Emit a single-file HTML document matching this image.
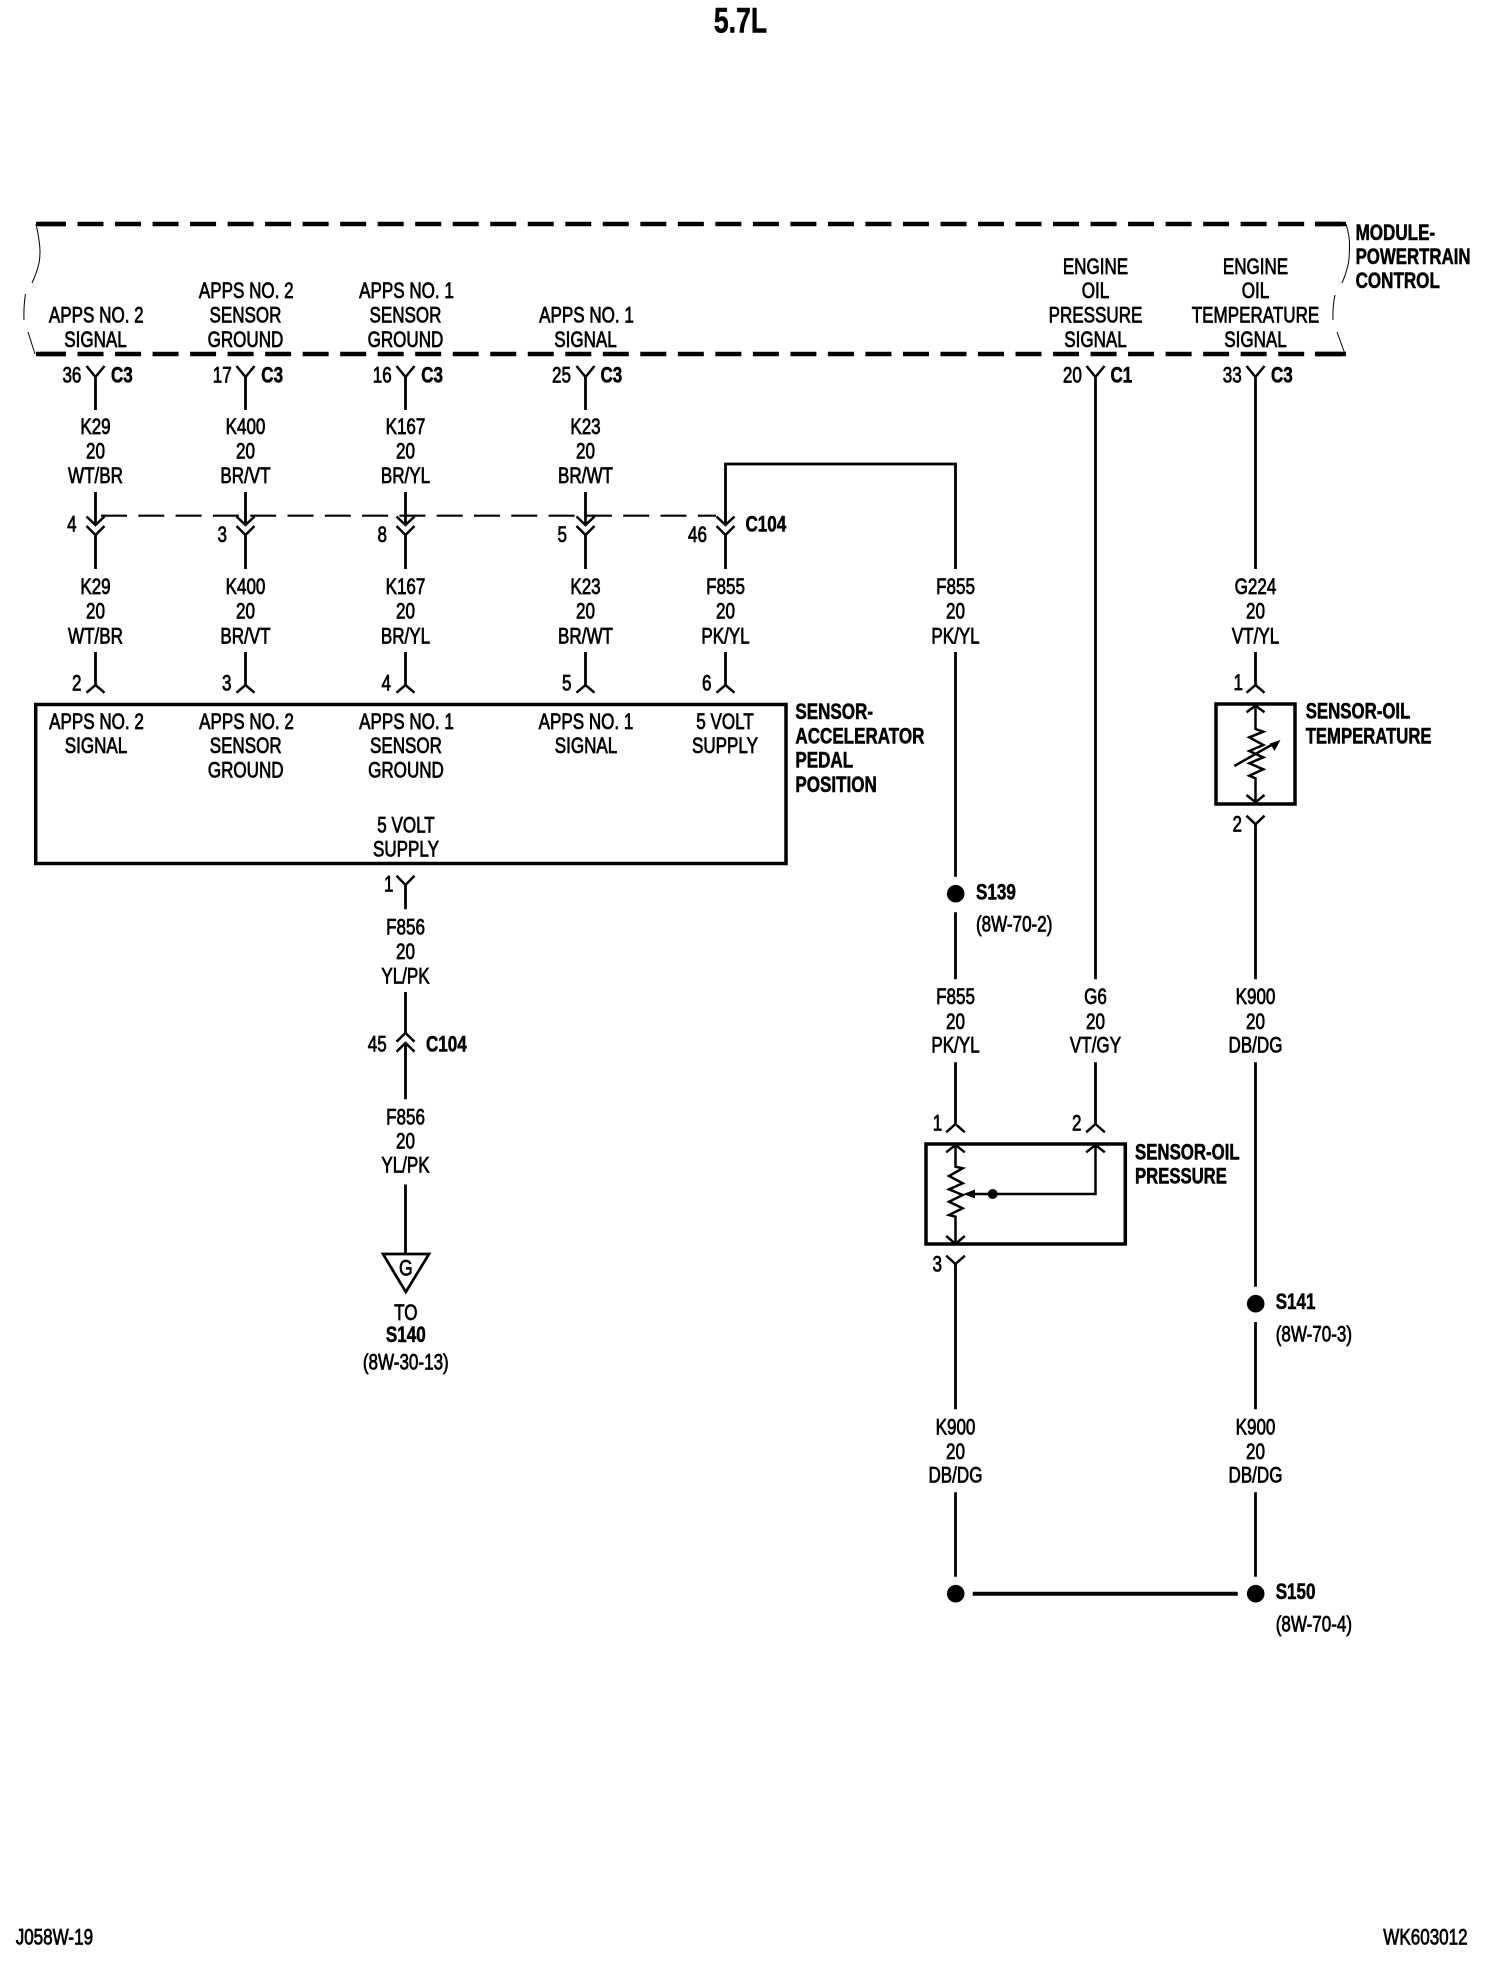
<!DOCTYPE html>
<html lang="en">
<head>
<meta charset="utf-8">
<title>5.7L wiring diagram</title>
<style>
html,body{margin:0;padding:0;background:#fff}
svg{display:block}
text{font-family:"Liberation Sans",Arial,sans-serif;font-size:22px;fill:#000;stroke:#000;stroke-width:.75px;transform-box:fill-box;transform:scaleX(.775)}
.m{text-anchor:middle;transform-origin:50% 0}
.s{text-anchor:start;transform-origin:0 0}
.e{text-anchor:end;transform-origin:100% 0}
.b{font-weight:bold;stroke-width:.55px}
.w{fill:none;stroke:#000;stroke-width:2.8;stroke-linejoin:miter}
.c{fill:none;stroke:#000;stroke-width:2.5;stroke-linejoin:miter}
.t{fill:none;stroke:#000;stroke-width:1}
</style>
</head>
<body>
<svg xmlns="http://www.w3.org/2000/svg" width="1504" height="1978" viewBox="0 0 1504 1978">
<rect width="1504" height="1978" fill="#fff"/>

<!-- Module boundary -->
<g fill="none" stroke="#000" stroke-width="4.400">
<path d="M40 224H1346" stroke-dasharray="26 11.52"/>
<path d="M40 354H1346" stroke-dasharray="26 11.52"/>
<path d="M36 224H66M1315 224H1346M36 354H66M1315 354H1346"/>
</g>
<path class="t" d="M36 224Q39.500 240 40 250Q40 258 39 263Q37 272 32 283M25.500 294Q23.500 306 24 320M28 332L35 354M1346 224Q1349.500 236 1349.500 243Q1349.500 256 1348.500 263Q1346 274 1342 283M1335 295Q1332.500 306 1333 320M1337 332L1345 354"/>

<!-- Wires -->
<path class="w" d="M95.500 377V410M245.500 377V410M405.500 377V410M585.500 377V410
M95.500 492V525M245.500 492V525M405.500 492V525M585.500 492V525
M95.500 535V569M245.500 535V569M405.500 535V569M585.500 535V569M725.500 535V569
M95.500 652V685M245.500 652V685M405.500 652V685M585.500 652V685M725.500 652V685
M725.500 525V464H955.500V569M955.500 652V876.700M955.500 912.300V979.300M955.500 1062.300V1124
M1095.500 377V979.300M1095.500 1062.300V1124
M1255.500 377V569M1255.500 652V685M1255.500 824V979.300M1255.500 1062.300V1286.700M1255.500 1322V1409.300M1255.500 1492.300V1576.700
M955.500 1264V1409.300M955.500 1492.300V1576.700
M405.500 885V909.300M405.500 992V1033M405.500 1043V1099.300M405.500 1184.500V1254"/>
<path d="M972.700 1593.700H1237.700" fill="none" stroke="#000" stroke-width="4"/>
<path d="M101 515.700H716" fill="none" stroke="#000" stroke-width="2.200" stroke-dasharray="26 11.300"/>

<!-- Connector symbols -->
<path class="c" d="M86.500 366L95.500 377L104.500 366M236.500 366L245.500 377L254.500 366M396.500 366L405.500 377L414.500 366M576.500 366L585.500 377L594.500 366M1086.500 366L1095.500 377L1104.500 366M1246.500 366L1255.500 377L1264.500 366
M86.500 516.500L95.500 525L104.500 516.500M236.500 516.500L245.500 525L254.500 516.500M396.500 516.500L405.500 525L414.500 516.500M576.500 516.500L585.500 525L594.500 516.500M716.500 516.500L725.500 525L734.500 516.500
M86.500 526L95.500 535L104.500 526M236.500 526L245.500 535L254.500 526M396.500 526L405.500 535L414.500 526M576.500 526L585.500 535L594.500 526M716.500 526L725.500 535L734.500 526
M86.500 692.700L95.500 685L104.500 692.700M236.500 692.700L245.500 685L254.500 692.700M396.500 692.700L405.500 685L414.500 692.700M576.500 692.700L585.500 685L594.500 692.700M716.500 692.700L725.500 685L734.500 692.700M1246.500 692.700L1255.500 685L1264.500 692.700
M396.500 875.700L405.500 885L414.500 875.700M396.500 1041.700L405.500 1033L414.500 1041.700M396.500 1051.700L405.500 1043L414.500 1051.700
M946.200 1132.300L955.500 1124L964.800 1132.300M1086.200 1132.300L1095.500 1124L1104.800 1132.300
M946.200 1152.300L955.500 1145L964.800 1152.300M1086.200 1152.300L1095.500 1145L1104.800 1152.300
M946.200 1236L955.500 1244L964.800 1236M946.200 1255.700L955.500 1264L964.800 1255.700
M1246.500 712.300L1255.500 705.700L1264.500 712.300M1246.500 795L1255.500 802.300L1264.500 795M1246.500 815.700L1255.500 824.300L1264.500 815.700"/>

<!-- Boxes -->
<g fill="none" stroke="#000" stroke-width="3.500">
<rect x="35.700" y="704.500" width="750.300" height="159"/>
<rect x="926" y="1144" width="199.300" height="100"/>
<rect x="1216" y="704" width="79" height="100"/>
</g>

<!-- Oil pressure sensor internals -->
<path class="c" d="M955.500 1145V1166.700L962.700 1168.300L949 1176L962.700 1183.300L949 1189.300L962.700 1195L949 1201.700L962.700 1208.300L949 1215L955.500 1216.700V1244M1095.500 1145V1194H975"/>
<polygon points="963.300,1194 975,1189.500 975,1198.500" fill="#000"/>
<circle cx="992.700" cy="1194" r="5" fill="#000"/>

<!-- Oil temperature sensor internals -->
<path class="c" d="M1255.500 705.700V729L1263.300 731.700L1249.300 737.300L1263.300 745L1249.300 751L1263.300 757.300L1249.300 763.300L1263.300 769.300L1249.300 775.700L1255.500 778.300V802.300M1234.300 766L1274 743.500"/>
<polygon points="1280.500,740 1270,743.500 1274.500,751" fill="#000"/>

<!-- Splices -->
<g fill="#000">
<circle cx="955.700" cy="893.700" r="8.800"/>
<circle cx="1255.700" cy="1303.700" r="8.800"/>
<circle cx="955.700" cy="1593.700" r="8.800"/>
<circle cx="1255.700" cy="1593.700" r="8.800"/>
</g>

<!-- Ground triangle -->
<polygon points="383,1254 429,1254 405.800,1292" fill="#fff" stroke="#000" stroke-width="2.700"/>
<text class="m" x="405.800" y="1275.500" style="transform:scaleX(.8)">G</text>

<!-- Title and footer -->
<text class="m b" x="740.500" y="32.300" style="font-size:35px;transform:scaleX(.76)">5.7L</text>
<text class="s" x="15.700" y="1944.300">J058W-19</text>
<text class="s" x="1383.300" y="1944.300">WK603012</text>

<!-- Module labels -->
<text class="s b" x="1355.600" y="240">MODULE-</text>
<text class="s b" x="1355.600" y="264" style="transform:scaleX(.765)">POWERTRAIN</text>
<text class="s b" x="1355.600" y="288">CONTROL</text>

<text class="m" x="96.300" y="322.500">APPS NO. 2</text>
<text class="m" x="95.500" y="347">SIGNAL</text>
<text class="m" x="246.300" y="298">APPS NO. 2</text>
<text class="m" x="245.500" y="322.500">SENSOR</text>
<text class="m" x="245.500" y="347">GROUND</text>
<text class="m" x="406.500" y="298">APPS NO. 1</text>
<text class="m" x="405.500" y="322.500">SENSOR</text>
<text class="m" x="405.500" y="347">GROUND</text>
<text class="m" x="586.500" y="322.500">APPS NO. 1</text>
<text class="m" x="585.500" y="347">SIGNAL</text>
<text class="m" x="1095.500" y="274">ENGINE</text>
<text class="m" x="1095.500" y="298">OIL</text>
<text class="m" x="1095.500" y="322.500">PRESSURE</text>
<text class="m" x="1095.500" y="347">SIGNAL</text>
<text class="m" x="1255.500" y="274">ENGINE</text>
<text class="m" x="1255.500" y="298">OIL</text>
<text class="m" x="1255.500" y="322.500">TEMPERATURE</text>
<text class="m" x="1255.500" y="347">SIGNAL</text>

<!-- Top connector labels -->
<text class="e" x="81.400" y="382.700">36</text><text class="s b" x="111" y="382.700">C3</text>
<text class="e" x="231.700" y="382.700">17</text><text class="s b" x="261.300" y="382.700">C3</text>
<text class="e" x="391.700" y="382.700">16</text><text class="s b" x="421.200" y="382.700">C3</text>
<text class="e" x="571" y="382.700">25</text><text class="s b" x="600.500" y="382.700">C3</text>
<text class="e" x="1081.800" y="382.700">20</text><text class="s b" x="1110.500" y="382.700">C1</text>
<text class="e" x="1241.700" y="382.700">33</text><text class="s b" x="1271" y="382.700">C3</text>

<!-- Upper wire labels -->
<text class="m" x="95.500" y="434">K29</text><text class="m" x="95.500" y="458.700">20</text><text class="m" x="95.500" y="483">WT/BR</text>
<text class="m" x="245.500" y="434">K400</text><text class="m" x="245.500" y="458.700">20</text><text class="m" x="245.500" y="483">BR/VT</text>
<text class="m" x="405.500" y="434">K167</text><text class="m" x="405.500" y="458.700">20</text><text class="m" x="405.500" y="483">BR/YL</text>
<text class="m" x="585.500" y="434">K23</text><text class="m" x="585.500" y="458.700">20</text><text class="m" x="585.500" y="483">BR/WT</text>

<!-- C104 labels -->
<text class="e" x="76.600" y="531.700">4</text>
<text class="e" x="227" y="542">3</text>
<text class="e" x="387" y="542">8</text>
<text class="e" x="567" y="542">5</text>
<text class="e" x="707" y="542">46</text>
<text class="s b" x="745.500" y="531.700">C104</text>

<!-- Lower wire labels -->
<text class="m" x="95.500" y="594">K29</text><text class="m" x="95.500" y="618.700">20</text><text class="m" x="95.500" y="643.300">WT/BR</text>
<text class="m" x="245.500" y="594">K400</text><text class="m" x="245.500" y="618.700">20</text><text class="m" x="245.500" y="643.300">BR/VT</text>
<text class="m" x="405.500" y="594">K167</text><text class="m" x="405.500" y="618.700">20</text><text class="m" x="405.500" y="643.300">BR/YL</text>
<text class="m" x="585.500" y="594">K23</text><text class="m" x="585.500" y="618.700">20</text><text class="m" x="585.500" y="643.300">BR/WT</text>
<text class="m" x="725.500" y="594">F855</text><text class="m" x="725.500" y="618.700">20</text><text class="m" x="725.500" y="643.300">PK/YL</text>
<text class="m" x="955.500" y="594">F855</text><text class="m" x="955.500" y="618.700">20</text><text class="m" x="955.500" y="643.300">PK/YL</text>
<text class="m" x="1255.500" y="594">G224</text><text class="m" x="1255.500" y="618.700">20</text><text class="m" x="1255.500" y="643.300">VT/YL</text>

<text class="e" x="81.500" y="690.700">2</text>
<text class="e" x="231.500" y="690.700">3</text>
<text class="e" x="391" y="690.700">4</text>
<text class="e" x="571.500" y="690.700">5</text>
<text class="e" x="711.500" y="690.700">6</text>
<text class="e" x="1243" y="690">1</text>

<!-- Accelerator sensor -->
<text class="m" x="96.500" y="729">APPS NO. 2</text><text class="m" x="96" y="753">SIGNAL</text>
<text class="m" x="246.500" y="729">APPS NO. 2</text><text class="m" x="245.700" y="753">SENSOR</text><text class="m" x="245.700" y="777.700">GROUND</text>
<text class="m" x="406.500" y="729">APPS NO. 1</text><text class="m" x="406" y="753">SENSOR</text><text class="m" x="406" y="777.700">GROUND</text>
<text class="m" x="586" y="729">APPS NO. 1</text><text class="m" x="586" y="753">SIGNAL</text>
<text class="m" x="725" y="729">5 VOLT</text><text class="m" x="725" y="753">SUPPLY</text>
<text class="m" x="406" y="832.700">5 VOLT</text><text class="m" x="406" y="856.700">SUPPLY</text>

<text class="s b" x="795.400" y="719">SENSOR-</text>
<text class="s b" x="795.400" y="743.300">ACCELERATOR</text>
<text class="s b" x="795.400" y="767.700">PEDAL</text>
<text class="s b" x="795.400" y="792">POSITION</text>

<!-- Temperature sensor labels -->
<text class="s b" x="1305.700" y="718.300" style="transform:scaleX(.765)">SENSOR-OIL</text>
<text class="s b" x="1305.700" y="743.300" style="transform:scaleX(.76)">TEMPERATURE</text>
<text class="e" x="1242" y="831.700">2</text>

<!-- F856 branch -->
<text class="e" x="393.500" y="891.700">1</text>
<text class="m" x="405.500" y="934.500">F856</text><text class="m" x="405.500" y="959">20</text><text class="m" x="405.500" y="983.300">YL/PK</text>
<text class="e" x="386.700" y="1051.700">45</text>
<text class="s b" x="426" y="1051.700">C104</text>
<text class="m" x="405.500" y="1124.300">F856</text><text class="m" x="405.500" y="1148.300">20</text><text class="m" x="405.500" y="1172.300">YL/PK</text>
<text class="m" x="405.800" y="1320">TO</text>
<text class="m b" x="405.800" y="1342">S140</text>
<text class="m" x="405.800" y="1369.700">(8W-30-13)</text>

<!-- Splice labels -->
<text class="s b" x="976" y="899.300">S139</text>
<text class="s" x="976" y="931.700">(8W-70-2)</text>
<text class="s b" x="1275.700" y="1309">S141</text>
<text class="s" x="1275.700" y="1341.700">(8W-70-3)</text>
<text class="s b" x="1275.700" y="1599">S150</text>
<text class="s" x="1275.700" y="1631.700">(8W-70-4)</text>

<!-- Mid wire labels -->
<text class="m" x="955.500" y="1004">F855</text><text class="m" x="955.500" y="1029">20</text><text class="m" x="955.500" y="1052.700">PK/YL</text>
<text class="m" x="1095.500" y="1004">G6</text><text class="m" x="1095.500" y="1029">20</text><text class="m" x="1095.500" y="1052.700">VT/GY</text>
<text class="m" x="1255.500" y="1004">K900</text><text class="m" x="1255.500" y="1029">20</text><text class="m" x="1255.500" y="1052.700">DB/DG</text>

<!-- Pressure sensor labels -->
<text class="e" x="942.300" y="1130.700">1</text>
<text class="e" x="1081.500" y="1130.700">2</text>
<text class="s b" x="1135" y="1159.300" style="transform:scaleX(.765)">SENSOR-OIL</text>
<text class="s b" x="1135" y="1183.300" style="transform:scaleX(.76)">PRESSURE</text>
<text class="e" x="942" y="1271.700">3</text>

<!-- Bottom wire labels -->
<text class="m" x="955.500" y="1434.300">K900</text><text class="m" x="955.500" y="1459">20</text><text class="m" x="955.500" y="1482.700">DB/DG</text>
<text class="m" x="1255.500" y="1434.300">K900</text><text class="m" x="1255.500" y="1459">20</text><text class="m" x="1255.500" y="1482.700">DB/DG</text>
</svg>
</body>
</html>
